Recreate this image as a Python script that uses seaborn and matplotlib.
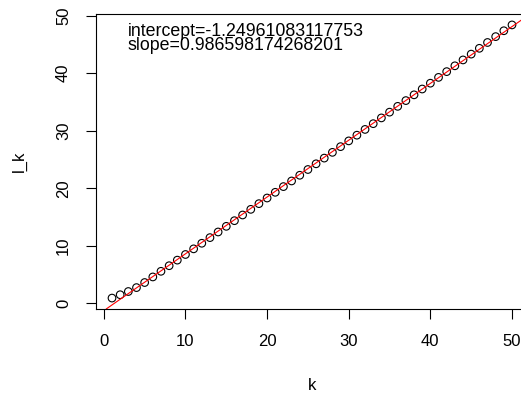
import numpy as np
import pandas as pd
import matplotlib
matplotlib.use("Agg")
import matplotlib.pyplot as plt
import seaborn as sns

# values
k = list(range(1, 51))
l_k = [0.93, 1.51, 2.07, 2.75, 3.63, 4.60, 5.58, 6.55, 7.52, 8.50,
       9.48, 10.45, 11.43, 12.41, 13.39, 14.37, 15.36, 16.34, 17.33, 18.31,
       19.30, 20.29, 21.27, 22.26, 23.26, 24.25, 25.24, 26.24, 27.23, 28.23,
       29.22, 30.22, 31.22, 32.22, 33.22, 34.23, 35.23, 36.23, 37.24, 38.25,
       39.26, 40.26, 41.27, 42.29, 43.30, 44.31, 45.32, 46.34, 47.36, 48.37]
intercept = -1.24961083117753
slope = 0.986598174268201
ticks = [0, 10, 20, 30, 40, 50]

sns.set_theme(style="white")
plt.rcParams['font.family'] = ['Liberation Sans', 'DejaVu Sans']

df = pd.DataFrame({'k': k, 'l_k': l_k})

fig = plt.figure(figsize=(5.21, 3.96), dpi=100)
# R-style plot region, right edge runs off the canvas like the original
ax = fig.add_axes([96 / 521, 1 - 309 / 396, 432 / 521, 295 / 396])

sns.scatterplot(data=df, x='k', y='l_k', marker='o', s=30,
                facecolor='none', edgecolor='black', linewidth=0.8, ax=ax)
ax.axline((0, intercept), slope=slope, color='red', linewidth=0.8)

# R pads the data range by 4%
xr = max(k) - min(k)
yr = max(l_k) - min(l_k)
ax.set_xlim(min(k) - 0.04 * xr, max(k) + 0.04 * xr)
ax.set_ylim(min(l_k) - 0.04 * yr, max(l_k) + 0.04 * yr)

ax.set_xticks(ticks)
ax.set_yticks(ticks)
ax.set_yticklabels([str(t) for t in ticks], rotation=90, va='center')
ax.tick_params(axis='both', direction='out', length=7, width=0.8,
               colors='black', labelsize=12, bottom=True, left=True)
ax.tick_params(axis='x', pad=11)
ax.tick_params(axis='y', pad=11)

for sp in ax.spines.values():
    sp.set_color('black')
    sp.set_linewidth(0.8)

ax.set_xlabel('k', fontsize=12, labelpad=21, color='black')
ax.set_ylabel('l_k', fontsize=12, labelpad=21, color='black')

# both lines in one text block, tight spacing like R's legend text
ax.text(2.9, 48.7, f"intercept={intercept}\nslope={slope}", fontsize=12.8,
        va='top', ha='left', linespacing=0.8, color='black')

fig.savefig('out.png', dpi=100)
